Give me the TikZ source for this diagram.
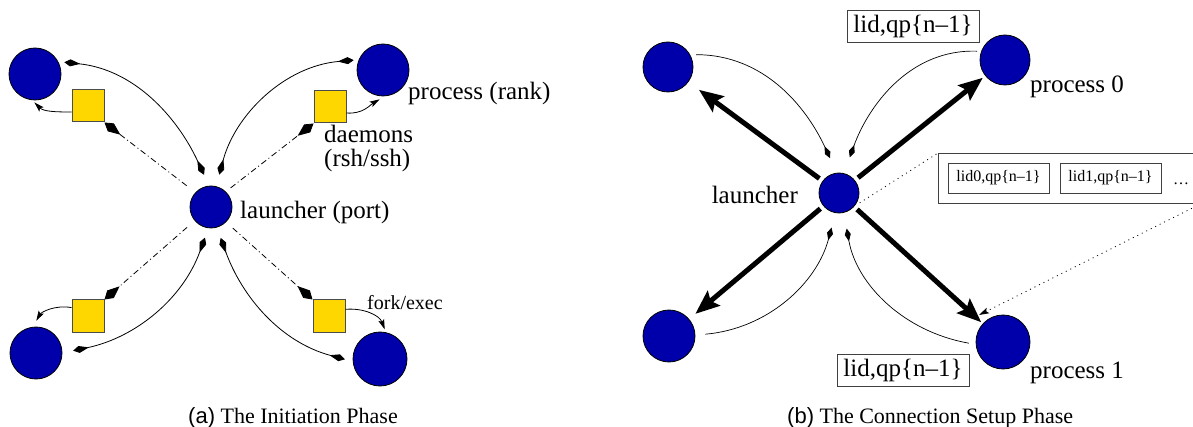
\documentclass[tikz,border=0pt]{standalone}
\usepackage{fontspec}
\setmainfont{Liberation Serif}
\setsansfont{Liberation Sans}
\usetikzlibrary{arrows.meta}
\definecolor{procblue}{RGB}{0,0,170}
\definecolor{daemongold}{RGB}{255,215,0}
\begin{document}
\begin{tikzpicture}[x=1pt,y=-1pt,
  proc/.style={circle,draw=black,line width=0.8pt,fill=procblue,inner sep=0pt,minimum size=#1},
  proc/.default=52pt,
  daemon/.style={rectangle,draw=black!70,line width=1pt,fill=daemongold,inner sep=0pt,minimum size=32pt},
  lbl/.style={inner sep=0pt,font=\fontsize{25}{24}\selectfont},
  smalllbl/.style={inner sep=0pt,font=\fontsize{20}{22}\selectfont},
  captiontext/.style={inner sep=0pt,font=\fontsize{22}{24}\selectfont},
  tag/.style={draw=black!75,line width=0.8pt,inner sep=0pt,minimum width=132pt,minimum height=32pt,font=\fontsize{25}{27}\selectfont},
  subtag/.style={draw=black!75,line width=0.8pt,inner sep=0pt,minimum width=101pt,minimum height=30pt,font=\fontsize{16}{18}\selectfont},
  twoway/.style={line width=0.8pt,>={Kite[length=16pt,width=7pt,inset=10pt]},<->},
  ctrl/.style={line width=0.8pt,dash pattern=on 6pt off 3pt on 1pt off 3pt,-{Kite[length=20pt,width=10pt,inset=12pt]}},
  spawn/.style={line width=0.8pt,-{Stealth[length=10pt,width=6pt,inset=2pt]}},
  bulk/.style={line width=5pt,-{Stealth[length=24pt,width=19pt,inset=4pt]}},
  ret/.style={line width=0.7pt,-{Kite[length=13pt,width=6pt,inset=7pt]}},
  hint/.style={line width=0.8pt,dash pattern=on 1pt off 4pt}
]
\useasboundingbox (0,0) rectangle (1193,427);
\clip (0,0) rectangle (1193,427);

% ---------- (a) initiation phase ----------
\node[proc] (c1) at (35,74) {};
\node[proc] (c2) at (383,70) {};
\node[proc] (c3) at (36,353) {};
\node[proc=54pt] (c4) at (380,359) {};
\node[proc=42pt] (L) at (211,207) {};
\node[daemon] (s1) at (88,106) {};
\node[daemon] (s2) at (330,107) {};
\node[daemon] (s3) at (88,316) {};
\node[daemon] (s4) at (329,316) {};

% launcher <-> processes
\draw[twoway,shorten <=12pt,shorten >=6pt] (L.95) to[out=115,in=-6] (c1.28);
\draw[twoway,shorten <=12pt,shorten >=5pt] (L.76) to[out=75,in=185] (c2.157);
\draw[twoway,shorten <=10pt,shorten >=11pt] (L.-97) to[out=-110,in=12] (c3.0);
\draw[twoway,shorten <=11pt,shorten >=8pt] (L.-74) to[out=-70,in=165] (c4.185);

% launcher -> daemons
\draw[ctrl,shorten <=11pt] (L.137) -- (s1.south east);
\draw[ctrl,shorten <=6pt] (L.46) -- (s2.south west);
\draw[ctrl,shorten <=10pt] (L.-140) -- (s3.north east);
\draw[ctrl,shorten <=9pt] (L.-45) -- (s4.north west);

% daemons spawn processes
\draw[spawn,shorten >=3pt] (s1.200) to[out=180,in=-45] (c1.-96);
\draw[spawn,shorten >=6pt] (s2.-20) to[out=-5,in=210] (c2.-86);
\draw[spawn,shorten >=7pt] (s3.153) to[out=170,in=60] (c3.97);
\draw[spawn,shorten >=3pt] (s4.22) to[out=5,in=110] (c4.78);

\node[lbl,anchor=base west] (rankl) at (408,100) {process (rank)};
\node[lbl,anchor=north west,align=left] (daeml) at (324,125) {daemons\\(rsh/ssh)};
\node[lbl,anchor=base west] (portl) at (240,219) {launcher (port)};
\node[smalllbl,anchor=base west] (forkl) at (367,310) {fork/exec};
\node[captiontext,anchor=base west] (capa) at (188,423) {{\sffamily (a)} The Initiation Phase};

% ---------- (b) connection setup phase ----------
\node[proc=50pt] (r1) at (668,67) {};
\node[proc=50pt] (p0) at (1005,60) {};
\node[proc=40pt] (R) at (839,193) {};
\node[proc] (r3) at (669,336) {};
\node[proc=54pt] (p1) at (1003,342) {};

% launcher distributes to all processes
\draw[bulk,shorten <=4pt,shorten >=13pt] (R) -- (r1);
\draw[bulk,shorten <=4pt,shorten >=3pt] (R) -- (p0);
\draw[bulk,shorten <=4pt,shorten >=8pt] (R) -- (r3);
\draw[bulk,shorten <=4pt,shorten >=2pt] (R) -- (p1);

% processes report back to launcher
\draw[ret,shorten <=6pt,shorten >=16pt] (r1.29) to[out=0,in=115] (R.96);
\draw[ret,shorten <=4pt,shorten >=17pt] (p0.160) to[out=178,in=70] (R.76);
\draw[ret,shorten <=10pt,shorten >=15pt] (r3.2) to[out=5,in=-105] (R.-100);
\draw[ret,shorten <=7pt,shorten >=16pt] (p1.185) to[out=170,in=-80] (R.-76);

\node[tag] (k0) at (913,26) {lid,qp\{n–1\}};
\node[tag] (k1) at (903,370) {lid,qp\{n–1\}};

\node[draw=black!75,line width=0.8pt,inner sep=0pt,minimum width=262pt,minimum height=50pt,anchor=north west] (buf) at (938,153) {};
\node[subtag] (b0) at (998.5,178) {lid0,qp\{n–1\}};
\node[subtag] (b1) at (1110.5,178) {lid1,qp\{n–1\}};
\node[inner sep=0pt,anchor=base,font=\fontsize{16}{18}\selectfont] (more) at (1181,185) {\ldots};

% table of queue pairs handed on to process 1
\coordinate (p1in) at (979,315);
\draw[hint,shorten <=6pt] (R.-40) -- (buf.north west);
\draw[hint,-{Stealth[length=10pt,width=6pt,inset=2pt]}] (buf.south east) -- (p1in);

\node[lbl,anchor=base east] (launl) at (798,204) {launcher};
\node[lbl,anchor=base west] (p0l) at (1030,93) {process 0};
\node[lbl,anchor=base west] (p1l) at (1030,378) {process 1};
\node[captiontext,anchor=base west] (capb) at (787,423) {{\sffamily (b)} The Connection Setup Phase};
\end{tikzpicture}
\end{document}
